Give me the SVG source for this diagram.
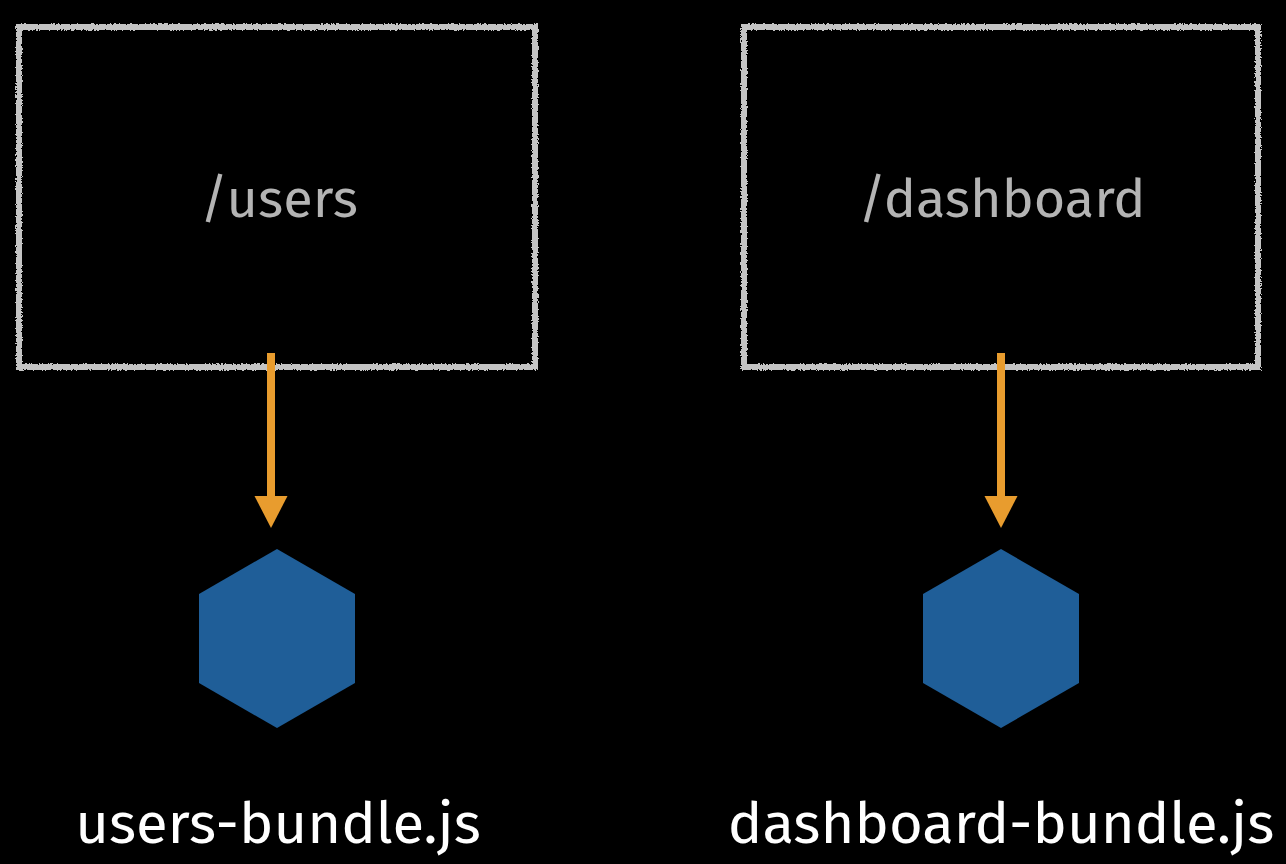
<svg xmlns="http://www.w3.org/2000/svg" width="1286" height="864" viewBox="0 0 1286 864">
<style>
.box{fill:none;stroke:#c4c4c4;stroke-width:6;filter:url(#rough)}
.lbl{font-family:"Fira Sans","Open Sans","Noto Sans",sans-serif;font-size:54px;fill:#b4b4b4;text-anchor:middle}
.cap{font-family:"Fira Sans","Open Sans","Noto Sans",sans-serif;font-size:58px;fill:#ffffff;text-anchor:middle}
.hex{fill:#1f5e98}
.conn{stroke:#e89c2e;stroke-width:8;fill:none}
.head{fill:#e89c2e}
</style>
<defs>
<filter id="rough" x="-5%" y="-5%" width="110%" height="110%">
<feTurbulence type="fractalNoise" baseFrequency="0.6" numOctaves="2" seed="3" result="n"/>
<feDisplacementMap in="SourceGraphic" in2="n" scale="4" xChannelSelector="R" yChannelSelector="G"/>
</filter>
</defs>
<rect width="1286" height="864" fill="#000"/>
<g id="node-users">
<rect class="box" x="19" y="27" width="516" height="340"/>
<text class="lbl" x="279" y="217">/users</text>
</g>
<g id="node-dashboard">
<rect class="box" x="744" y="27" width="514" height="340"/>
<text class="lbl" x="1002" y="217">/dashboard</text>
</g>
<g id="node-users-bundle">
<polygon class="hex" points="277,549 355,594 355,683 277,728 199,683 199,594"/>
<text class="cap" x="278" y="843">users-bundle.js</text>
</g>
<g id="node-dashboard-bundle">
<polygon class="hex" points="1001,549 1079,594 1079,683 1001,728 923,683 923,594"/>
<text class="cap" x="1001" y="843">dashboard-bundle.js</text>
</g>
<g id="connectors">
<line class="conn" x1="271" y1="353" x2="271" y2="498"/>
<polygon class="head" points="254.5,496 287.5,496 271,528"/>
<line class="conn" x1="1001" y1="353" x2="1001" y2="498"/>
<polygon class="head" points="984.5,496 1017.5,496 1001,528"/>
</g>
</svg>
